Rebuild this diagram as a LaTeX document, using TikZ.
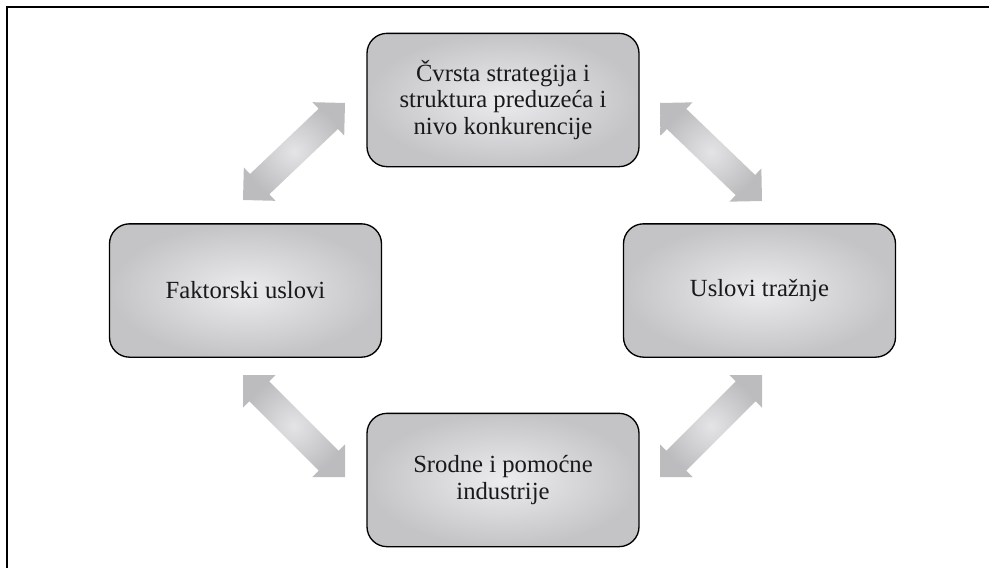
\documentclass[tikz,border=0pt]{standalone}
\usepackage{fontspec}
\setmainfont{Liberation Serif}
\usetikzlibrary{calc}

\definecolor{boxin}{RGB}{236,236,238}
\definecolor{boxout}{RGB}{196,196,199}
\definecolor{arrin}{RGB}{228,228,230}
\definecolor{arrout}{RGB}{188,188,191}

\tikzset{
    factor/.style={draw=black, line width=1pt, rounded corners=15pt,
        inner color=boxin, outer color=boxout,
        minimum width=204pt, minimum height=100pt, align=center,
        font=\fontsize{18.5}{20}\selectfont, text=black!90},
    linkshade/.style={inner color=arrin, outer color=arrout},
}

% double block arrow between two named coordinates
\newcommand{\linkarrow}[2]{%
    \shade[linkshade] (#1) -- ($(#1)!24.4pt!45:(#2)$) -- ($(#1)!20.2pt!31.3:(#2)$)
        -- ($(#2)!20.2pt!-31.3:(#1)$) -- ($(#2)!24.4pt!-45:(#1)$) -- (#2)
        -- ($(#2)!24.4pt!45:(#1)$) -- ($(#2)!20.2pt!31.3:(#1)$)
        -- ($(#1)!20.2pt!-31.3:(#2)$) -- ($(#1)!24.4pt!-45:(#2)$) -- cycle;}

\begin{document}
\begin{tikzpicture}[x=0.75pt, y=-0.75pt]
        \useasboundingbox (0,0) rectangle (989,568);

        % frame
        \draw [line width=1.1pt] (7,568) -- (7,7) -- (989,7);

        % boxes
        \node [factor] (strat) at (503,100) {Čvrsta strategija i\\struktura preduzeća i\\nivo konkurencije};
        \node [factor] (faktor) at (245.5,290.5) {Faktorski uslovi};
        \node [factor] (traznja) at (759.5,290.5) {Uslovi tražnje};
        \node [factor] (srodne) at (503,480) {Srodne i pomoćne\\industrije};

        % arrow ends
        \coordinate (tl1) at (243,200);\coordinate (tl2) at (345,103);
        \coordinate (tr1) at (660,103);\coordinate (tr2) at (762,201);
        \coordinate (br1) at (660,477);\coordinate (br2) at (762,375);
        \coordinate (bl1) at (243,375);\coordinate (bl2) at (345,477);

        % arrows
        \linkarrow{tl1}{tl2}
        \linkarrow{tr1}{tr2}
        \linkarrow{br1}{br2}
        \linkarrow{bl1}{bl2}
    \end{tikzpicture}
\end{document}
